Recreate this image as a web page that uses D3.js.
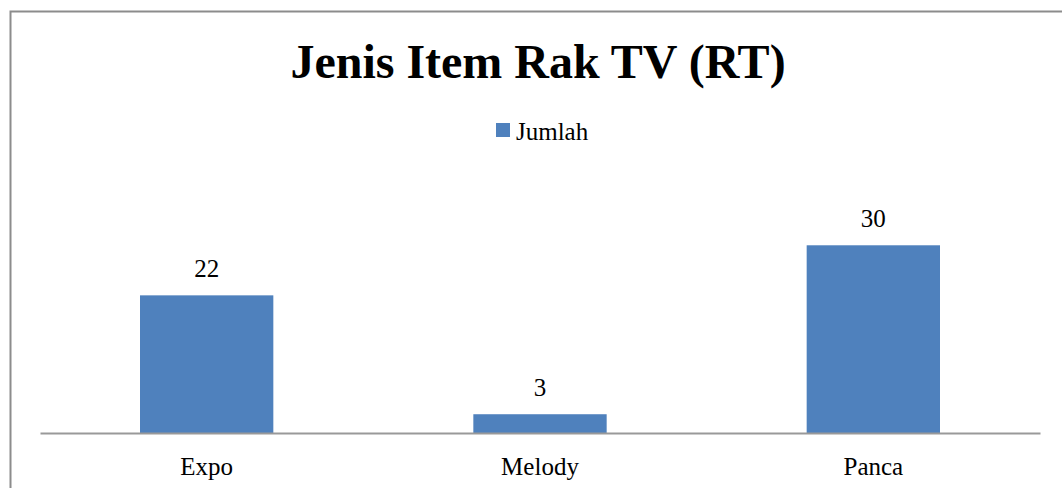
<!DOCTYPE html>
<html>
<head>
<meta charset="utf-8">
<script src="https://cdn.jsdelivr.net/npm/d3@7"></script>
<style>
  body { margin: 0; background: #fff; }
  svg { display: block; font-family: "Liberation Serif", "Times New Roman", serif; }
</style>
</head>
<body>
<div id="chart"></div>
<script>
// chart data
const categories = ["Expo", "Melody", "Panca"];
const values = [22, 3, 30];
const seriesName = "Jumlah";
const title = "Jenis Item Rak TV (RT)";

let dimensions = {
  width: 1062,
  height: 488,
  margin: { top: 214, right: 22, bottom: 55, left: 40 }
};
dimensions.boundedWidth = dimensions.width - dimensions.margin.left - dimensions.margin.right;
dimensions.boundedHeight = dimensions.height - dimensions.margin.top - dimensions.margin.bottom;

const svg = d3.select("#chart")
  .append("svg")
  .attr("width", dimensions.width)
  .attr("height", dimensions.height);

// outer chart border (runs off the right and bottom)
svg.append("rect")
  .attr("x", 10.5)
  .attr("y", 11.5)
  .attr("width", 1100)
  .attr("height", 600)
  .attr("fill", "none")
  .attr("stroke", "#8c8c8c")
  .attr("stroke-width", 2);

svg.append("text")
  .attr("x", 538)
  .attr("y", 78)
  .attr("text-anchor", "middle")
  .attr("font-size", 48)
  .attr("font-weight", "bold")
  .attr("fill", "#000")
  .text(title);

// legend
const legend = svg.append("g").attr("transform", "translate(496,123)");
legend.append("rect")
  .attr("width", 14)
  .attr("height", 14)
  .attr("fill", "#4f81bd");
legend.append("text")
  .attr("x", 20)
  .attr("y", 17)
  .attr("font-size", 25)
  .attr("fill", "#000")
  .text(seriesName);

const bounds = svg.append("g")
  .attr("transform", `translate(${dimensions.margin.left},${dimensions.margin.top})`);

let x = d3.scaleBand()
  .domain(categories)
  .range([0, dimensions.boundedWidth])
  .paddingInner(0.6)
  .paddingOuter(0.3);

let y = d3.scaleLinear()
  .domain([0, 35])
  .range([dimensions.boundedHeight, 0]);

bounds.selectAll("rect.bar")
  .data(values)
  .enter()
  .append("rect")
  .attr("class", "bar")
  .attr("x", (d, i) => x(categories[i]))
  .attr("y", d => y(d))
  .attr("width", x.bandwidth())
  .attr("height", d => y(0) - y(d))
  .attr("fill", "#4f81bd");

bounds.selectAll("text.val")
  .data(values)
  .enter()
  .append("text")
  .attr("class", "val")
  .attr("x", (d, i) => x(categories[i]) + x.bandwidth() / 2)
  .attr("y", d => y(d) - 18)
  .attr("text-anchor", "middle")
  .attr("font-size", 25)
  .attr("fill", "#000")
  .text(d => d);

// x axis: plain baseline, category names below
const xAxis = bounds.append("g")
  .attr("transform", `translate(0,${dimensions.boundedHeight})`)
  .call(d3.axisBottom(x).tickSize(0).tickPadding(0));
xAxis.select(".domain")
  .attr("stroke", "#999")
  .attr("stroke-width", 2);
xAxis.selectAll("text")
  .attr("font-family", "Liberation Serif, Times New Roman, serif")
  .attr("font-size", 25)
  .attr("fill", "#000")
  .attr("dy", null)
  .attr("y", 42);
</script>
</body>
</html>
